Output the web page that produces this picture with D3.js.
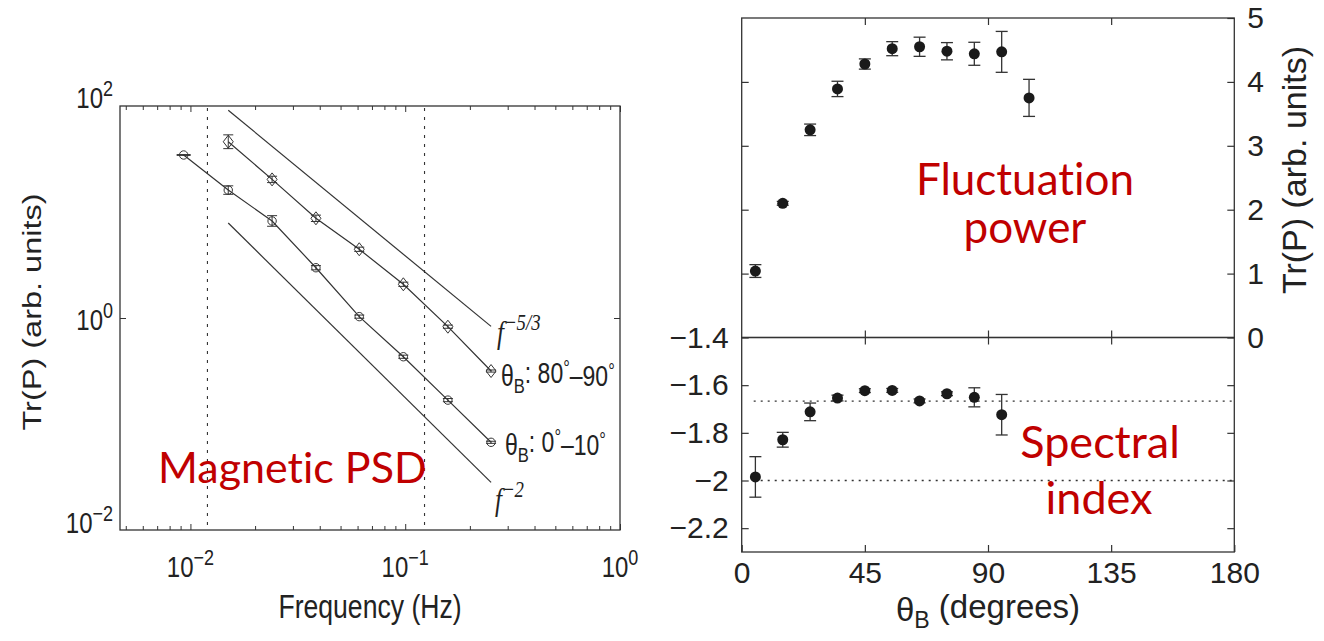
<!DOCTYPE html>
<html>
<head>
<meta charset="utf-8">
<script src="https://cdn.jsdelivr.net/npm/d3@7"></script>
<style>
  body { margin: 0; background: #fff; }
  svg text { font-family: "Liberation Sans", Arial, sans-serif; fill: #222; }
  svg text.note { font-family: Lato, "Open Sans", sans-serif; fill: #c00000; font-variant-ligatures: none; }
  svg text.serif { font-family: "Liberation Serif", "Times New Roman", serif; font-style: italic; }
</style>
</head>
<body>
<svg id="main" width="1324" height="641"></svg>
<script>
// ---- left panel data: magnetic PSD (log-log) ----
var freqs = [0.0093, 0.0150, 0.0240, 0.0384, 0.0611, 0.0980, 0.158, 0.251];
var psdPar = [34.5, 16.1, 8.23, 2.98, 1.03, 0.431, 0.168, 0.0672];      // thetaB 0-10
var psdParErr = [0.004, 0.04, 0.05, 0.02, 0.015, 0.015, 0.015, 0.01];    // decades
var freqsPerp = [0.0150, 0.0240, 0.0384, 0.0611, 0.0980, 0.158, 0.251];
var psdPerp = [46.0, 20.3, 8.72, 4.45, 2.08, 0.828, 0.316];             // thetaB 80-90
var psdPerpErr = [0.065, 0.03, 0.03, 0.02, 0.02, 0.015, 0.01];
var refExponents = [-5 / 3, -2];
var refAmps = [0.0832, 0.00177];
var refRange = [0.015, 0.251];
var cutoffFreqs = [0.012, 0.123];
var yTickExps = [2, 0, -2];
var xTickExps = [-2, -1, 0];

// ---- right panel data: power and spectral index vs thetaB ----
var theta = [5, 15, 25, 35, 45, 55, 65, 75, 85, 95, 105];
var power = [1.04, 2.10, 3.25, 3.89, 4.28, 4.52, 4.55, 4.48, 4.44, 4.47, 3.75];
var powerErr = [0.1, 0.03, 0.09, 0.12, 0.08, 0.11, 0.15, 0.135, 0.18, 0.32, 0.29];
var thetaIdx = [5, 15, 25, 35, 45, 55, 65, 75, 85, 95];
var specIndex = [-1.985, -1.829, -1.712, -1.654, -1.623, -1.622, -1.666, -1.636, -1.651, -1.724];
var specIndexErr = [0.085, 0.031, 0.037, 0.012, 0.008, 0.008, 0.008, 0.008, 0.04, 0.085];
var indexRefs = [-5 / 3, -2];
var thetaTicks = [0, 45, 90, 135, 180];
var powerTicks = [0, 1, 2, 3, 4, 5];
var indexTicks = [-1.4, -1.6, -1.8, -2, -2.2];

var svg = d3.select("#main");
var ink = "#333";
var SY = 1.25; // the left figure is stretched vertically

// text drawn in a stretched group
function stretched(parent, x, y, rot) {
  return parent.append("g")
    .attr("transform", "translate(" + x + "," + y + ") scale(1," + SY + ")" + (rot ? " rotate(" + rot + ")" : ""))
    .append("text");
}

function sup(text, base, s) {
  text.append("tspan").text(base);
  text.append("tspan").attr("dy", "-0.55em").attr("font-size", "0.75em").text(s);
}

/* =========== left panel =========== */
var fx = d3.scaleLog().domain([0.0047, 1]).range([120, 620]);
var fy = d3.scaleLog().domain([0.01, 100]).range([530, 106]);
var L = svg.append("g");

var allX = fx.ticks();
var isMajor = function(v) { return Math.abs(Math.log10(v) - Math.round(Math.log10(v))) < 1e-6; };
var minorX = allX.filter(function(v) { return !isMajor(v); });
var majorX = allX.filter(isMajor);

function tickAxis(parent, axis, tr) {
  parent.append("g").attr("transform", tr).attr("color", ink)
    .call(axis)
    .call(function(g) { g.select(".domain").remove(); g.selectAll("line").attr("stroke-width", 1); });
}
tickAxis(L, d3.axisBottom(fx).tickValues(minorX).tickSize(-4).tickFormat(""), "translate(0,530)");
tickAxis(L, d3.axisBottom(fx).tickValues(majorX).tickSize(-6).tickFormat(""), "translate(0,530)");
tickAxis(L, d3.axisTop(fx).tickValues(minorX).tickSize(-4).tickFormat(""), "translate(0,106)");
tickAxis(L, d3.axisTop(fx).tickValues(majorX).tickSize(-6).tickFormat(""), "translate(0,106)");
tickAxis(L, d3.axisLeft(fy).tickValues([1]).tickSize(-6).tickFormat(""), "translate(120,0)");
tickAxis(L, d3.axisRight(fy).tickValues([1]).tickSize(-6).tickFormat(""), "translate(620,0)");

L.append("rect").attr("x", 120).attr("y", 106).attr("width", 500).attr("height", 424)
  .attr("fill", "none").attr("stroke", ink).attr("stroke-width", 1.3);

// tick labels
yTickExps.forEach(function(e) {
  var v = Math.pow(10, e);
  var off = e === 2 ? 2 : e === -2 ? 3 : 12;
  var t = stretched(L, 113, fy(v) + off).attr("text-anchor", "end").attr("font-size", 24);
  sup(t, "10", String(e).replace("-", "\u2212"));
});
xTickExps.forEach(function(e) {
  var v = Math.pow(10, e);
  var t = stretched(L, fx(v), 577).attr("text-anchor", "middle").attr("font-size", 24);
  sup(t, "10", String(e).replace("-", "\u2212"));
});
stretched(L, 370, 618).attr("text-anchor", "middle").attr("font-size", 26.6).text("Frequency (Hz)");
stretched(L, 41, 312, -90).attr("text-anchor", "middle").attr("font-size", 26).text("Tr(P) (arb. units)");

// cutoff lines
L.selectAll(".cut").data(cutoffFreqs).enter().append("line")
  .attr("x1", function(d) { return fx(d); }).attr("x2", function(d) { return fx(d); })
  .attr("y1", 108).attr("y2", 529)
  .attr("stroke", ink).attr("stroke-width", 1.1).attr("stroke-dasharray", "3,6");

// reference power laws
var line = d3.line().x(function(d) { return fx(d[0]); }).y(function(d) { return fy(d[1]); });
refExponents.forEach(function(ex, i) {
  var pts = refRange.map(function(f) { return [f, refAmps[i] * Math.pow(f, ex)]; });
  L.append("path").attr("d", line(pts)).attr("fill", "none").attr("stroke", ink).attr("stroke-width", 1.2);
});

// data series
function drawSeries(fs, ps, errs, shape) {
  var pts = fs.map(function(f, i) { return [f, ps[i], errs[i]]; });
  L.append("path").attr("d", line(pts)).attr("fill", "none").attr("stroke", ink).attr("stroke-width", 1.2);
  var g = L.append("g").attr("stroke", ink).attr("stroke-width", 1).attr("fill", "none");
  pts.forEach(function(d, i) {
    var x = fx(d[0]);
    var y0 = fy(d[1] * Math.pow(10, d[2])), y1 = fy(d[1] / Math.pow(10, d[2]));
    var cap = i === 0 && shape === "circle" ? 7 : 5;
    g.append("line").attr("x1", x).attr("x2", x).attr("y1", y0).attr("y2", y1);
    g.append("line").attr("x1", x - cap).attr("x2", x + cap).attr("y1", y0).attr("y2", y0);
    g.append("line").attr("x1", x - cap).attr("x2", x + cap).attr("y1", y1).attr("y2", y1);
    var y = fy(d[1]);
    if (shape === "circle") {
      g.append("circle").attr("cx", x).attr("cy", y).attr("r", 4.2);
    } else {
      g.append("path").attr("d", "M" + x + "," + (y - 6.5) + "L" + (x + 5) + "," + y + "L" + x + "," + (y + 6.5) + "L" + (x - 5) + "," + y + "Z");
    }
  });
}
drawSeries(freqs, psdPar, psdParErr, "circle");
drawSeries(freqsPerp, psdPerp, psdPerpErr, "diamond");

// series labels
var t1 = stretched(L, 497, 343).attr("class", "serif").attr("font-size", 25);
sup(t1, "f", "\u22125/3");
var t2 = stretched(L, 495, 510).attr("class", "serif").attr("font-size", 25);
sup(t2, "f", "\u22122");

function thetaLabel(x, y, a, b) {
  var t = stretched(L, x, y).attr("font-size", 23);
  t.append("tspan").text("\u03b8");
  t.append("tspan").attr("dy", "0.35em").attr("font-size", "0.72em").text("B");
  t.append("tspan").attr("dy", "-0.35em").text(": " + a);
  t.append("tspan").attr("dy", "-0.4em").attr("font-size", "0.72em").text("\u00b0");
  t.append("tspan").attr("dy", "0.4em").text("\u2013" + b);
  t.append("tspan").attr("dy", "-0.4em").attr("font-size", "0.72em").text("\u00b0");
}
thetaLabel(501, 386, "80", "90");
thetaLabel(505, 455, "0", "10");

L.append("text").attr("class", "note").attr("x", 158).attr("y", 483).attr("font-size", 43).text("Magnetic PSD");

/* =========== right panel =========== */
var tx = d3.scaleLinear().domain([0, 180]).range([741.7, 1234.3]);
var py = d3.scaleLinear().domain([0, 5]).range([337.5, 18]);
var iy = d3.scaleLinear().domain([-2.3, -1.4]).range([552, 337.5]);
var R = svg.append("g");
var fmt = d3.format("~g");

function rAxis(axis, tr, labels) {
  var g = R.append("g").attr("transform", tr).attr("color", ink).call(axis.tickFormat(fmt));
  g.select(".domain").remove();
  g.selectAll("line").attr("stroke-width", 1.2);
  g.attr("font-size", 30).attr("font-family", "'Liberation Sans', Arial, sans-serif");
  g.selectAll("text").attr("fill", "#222");
  if (!labels) g.selectAll("text").remove();
  return g;
}
var inner = [45, 90, 135];
rAxis(d3.axisTop(tx).tickValues(inner).tickSize(-7), "translate(0,18)", false);
rAxis(d3.axisBottom(tx).tickValues(inner).tickSize(-7), "translate(0,337.5)", false);
rAxis(d3.axisTop(tx).tickValues(inner).tickSize(-7), "translate(0,337.5)", false);
rAxis(d3.axisBottom(tx).tickValues(thetaTicks).tickSize(-7).tickPadding(10), "translate(0,552)", true);
rAxis(d3.axisLeft(py).tickValues([1, 2, 3, 4]).tickSize(-7), "translate(741.7,0)", false);
rAxis(d3.axisRight(py).tickValues(powerTicks).tickSize(-7).tickPadding(13), "translate(1234.3,0)", true);
rAxis(d3.axisLeft(iy).tickValues(indexTicks).tickSize(-7).tickPadding(13), "translate(741.7,0)", true);
rAxis(d3.axisRight(iy).tickValues(indexTicks.slice(1)).tickSize(-7), "translate(1234.3,0)", false);

R.append("rect").attr("x", tx(0)).attr("y", py(5)).attr("width", tx(180) - tx(0)).attr("height", py(0) - py(5))
  .attr("fill", "none").attr("stroke", ink).attr("stroke-width", 1.3);
R.append("rect").attr("x", tx(0)).attr("y", iy(-1.4)).attr("width", tx(180) - tx(0)).attr("height", iy(-2.3) - iy(-1.4))
  .attr("fill", "none").attr("stroke", ink).attr("stroke-width", 1.3);

R.selectAll(".ref").data(indexRefs).enter().append("line")
  .attr("x1", tx(0) + 12).attr("x2", tx(180) - 2)
  .attr("y1", function(d) { return iy(d); }).attr("y2", function(d) { return iy(d); })
  .attr("stroke", ink).attr("stroke-width", 1.3).attr("stroke-dasharray", "2,5");

function dots(xs, ys, errs, yScale) {
  var g = R.append("g");
  xs.forEach(function(t, i) {
    var x = tx(t), a = yScale(ys[i] + errs[i]), b = yScale(ys[i] - errs[i]);
    g.append("line").attr("x1", x).attr("x2", x).attr("y1", a).attr("y2", b).attr("stroke", ink).attr("stroke-width", 1.3);
    g.append("line").attr("x1", x - 6).attr("x2", x + 6).attr("y1", a).attr("y2", a).attr("stroke", ink).attr("stroke-width", 1.3);
    g.append("line").attr("x1", x - 6).attr("x2", x + 6).attr("y1", b).attr("y2", b).attr("stroke", ink).attr("stroke-width", 1.3);
    g.append("circle").attr("cx", x).attr("cy", yScale(ys[i])).attr("r", 5.5).attr("fill", "#1a1a1a");
  });
}
dots(theta, power, powerErr, py);
dots(thetaIdx, specIndex, specIndexErr, iy);

// axis titles
var xt = R.append("text").attr("x", tx(90)).attr("y", 621).attr("text-anchor", "middle").attr("font-size", 33);
xt.append("tspan").text("\u03b8");
xt.append("tspan").attr("dy", "0.3em").attr("font-size", "0.7em").text("B");
xt.append("tspan").attr("dy", "-0.3em").text(" (degrees)");
R.append("text").attr("transform", "translate(1306,170) rotate(-90)").attr("text-anchor", "middle")
  .attr("font-size", 34).text("Tr(P) (arb. units)");

R.append("text").attr("class", "note").attr("x", 1025).attr("y", 195).attr("text-anchor", "middle").attr("font-size", 44).text("Fluctuation");
R.append("text").attr("class", "note").attr("x", 1025).attr("y", 243).attr("text-anchor", "middle").attr("font-size", 44).text("power");
R.append("text").attr("class", "note").attr("x", 1100).attr("y", 458).attr("text-anchor", "middle").attr("font-size", 45).text("Spectral");
R.append("text").attr("class", "note").attr("x", 1099).attr("y", 514).attr("text-anchor", "middle").attr("font-size", 45).text("index");
</script>
</body>
</html>
